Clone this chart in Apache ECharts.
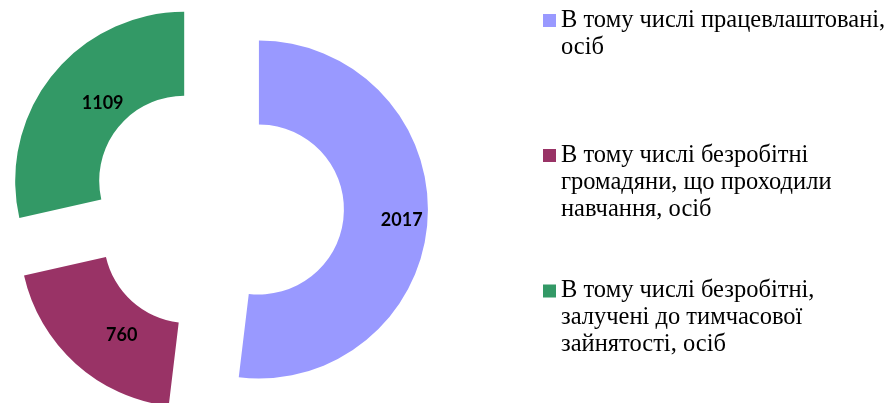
<!DOCTYPE html>
<html>
<head>
<meta charset="utf-8">
<script src="https://cdn.jsdelivr.net/npm/echarts@6/dist/echarts.min.js"></script>
<style>html,body{margin:0;padding:0;background:#fff}#c{width:889px;height:403px}</style>
</head>
<body>
<div id="c"></div>
<script>
const categories = [
  'В тому числі працевлаштовані,\nосіб',
  'В тому числі безробітні\nгромадяни, що проходили\nнавчання, осіб',
  'В тому числі безробітні,\nзалучені до тимчасової\nзайнятості, осіб'
];
const values = [2017, 760, 1109];
const colors = ['#9999FF', '#993366', '#339966'];

// layout / style constants
const LH = 27;
const ICON = 13;
const ICON_CENTERS = [20.5, 155.5, 291];
const LABEL_SHIFT = [[13, 3], [20, 0], [20, 4]];

const chart = echarts.init(document.getElementById('c'), null, {renderer: 'canvas'});

const legends = categories.map((name, i) => {
  const n = name.split('\n').length;
  const h = n * LH;
  const y0 = LH / 2 - ICON / 2, y1 = LH / 2 + ICON / 2;
  const icon = 'path://M0,0L0,0M0,' + y0 + 'H' + ICON + 'V' + y1 + 'H0Z M0,' + h + 'L0,' + h;
  return {
    orient: 'vertical',
    left: 543,
    top: ICON_CENTERS[i] - LH / 2,
    padding: 0,
    data: [{name: name, icon: icon}],
    itemWidth: ICON,
    itemHeight: h,
    selectedMode: false,
    textStyle: {
      fontFamily: 'Liberation Serif',
      fontSize: 24.5,
      lineHeight: LH,
      color: '#000'
    }
  };
});

chart.setOption({
  animation: false,
  color: colors,
  legend: legends,
  series: [{
    type: 'pie',
    center: [217, 207],
    radius: [85, 169],
    startAngle: 90,
    clockwise: true,
    selectedMode: 'multiple',
    selectedOffset: 42,
    avoidLabelOverlap: false,
    label: {
      show: true,
      position: 'inside',
      formatter: '{c}',
      fontFamily: 'Lato',
      fontWeight: 'bold',
      fontSize: 18,
      color: '#000'
    },
    labelLayout: function (params) {
      const s = LABEL_SHIFT[params.dataIndex] || [0, 0];
      return {dx: s[0], dy: s[1]};
    },
    labelLine: {show: false},
    emphasis: {disabled: true},
    data: categories.map((name, i) => ({
      name: name,
      value: values[i],
      selected: true
    }))
  }]
});
</script>
</body>
</html>
